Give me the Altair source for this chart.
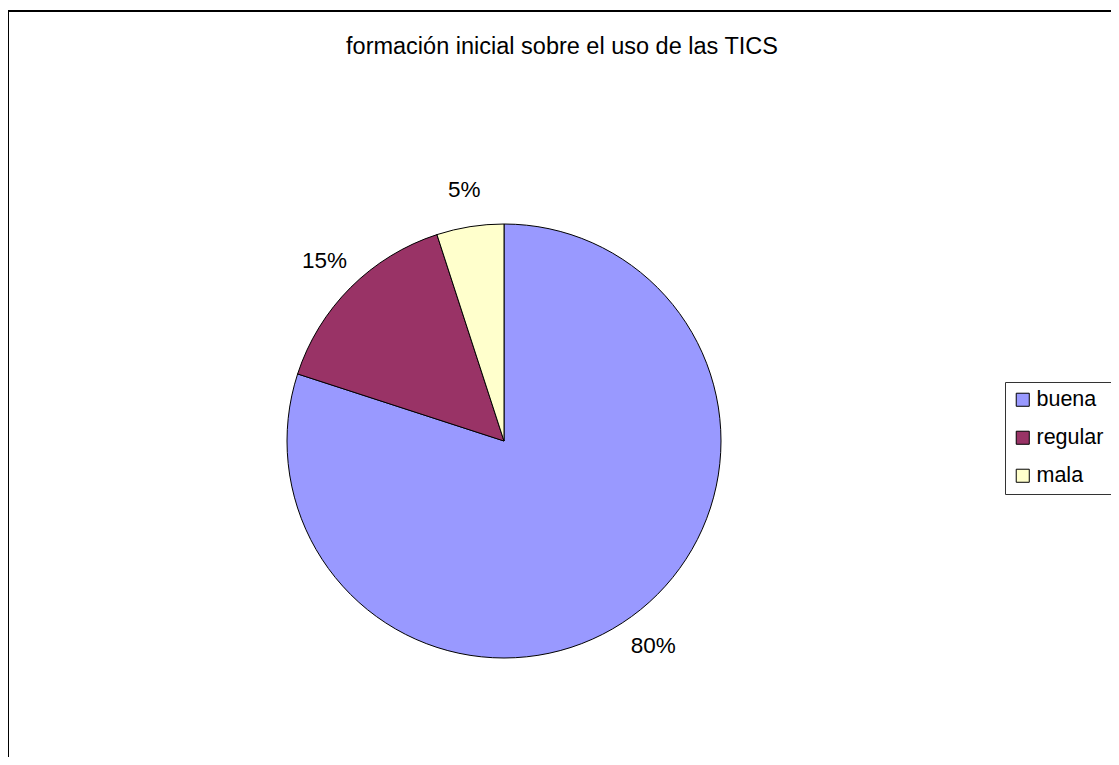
import altair as alt
import pandas as pd

categories = ["buena", "regular", "mala"]
values = [80, 15, 5]
labels = ["80%", "15%", "5%"]
colors = ["#9999FF", "#993366", "#FFFFCC"]
title_text = "formación inicial sobre el uso de las TICS"

df = pd.DataFrame({"cat": categories, "value": values, "label": labels,
                   "idx": list(range(len(categories)))})

FONT = "Liberation Sans"
CX, CY, R = 496, 433, 217

base = alt.Chart(df).encode(
    theta=alt.Theta("value:Q", stack=True),
    order=alt.Order("idx:Q"),
    x=alt.value(CX),
    y=alt.value(CY),
)

pie = base.mark_arc(outerRadius=R, stroke="black", strokeWidth=1).encode(
    color=alt.Color(
        "cat:N",
        scale=alt.Scale(domain=categories, range=colors),
        sort=categories,
        legend=alt.Legend(
            title=None,
            orient="none",
            legendX=997,
            legendY=374,
            symbolType="square",
            symbolSize=170,
            symbolStrokeColor="black",
            symbolStrokeWidth=1,
            symbolOpacity=1,
            labelFont=FONT,
            labelFontSize=21.5,
            labelColor="black",
            labelOffset=3,
            rowPadding=15,
            padding=7,
            strokeColor="#333333",
            fillColor="white",
        ),
    )
)

text = base.mark_text(radius=254, font=FONT, fontSize=22.5, color="black").encode(
    text="label:N",
    detail="cat:N",
)

title = alt.Chart(pd.DataFrame({"t": [title_text]})).mark_text(
    font=FONT, fontSize=23.5, color="black", baseline="alphabetic", align="center"
).encode(text="t:N", x=alt.value(554), y=alt.value(46))

border_top = alt.Chart(pd.DataFrame({"a": [0]})).mark_rule(
    color="black", strokeWidth=2
).encode(x=alt.value(-2), x2=alt.value(1120), y=alt.value(3))

border_left = alt.Chart(pd.DataFrame({"a": [0]})).mark_rule(
    color="black", strokeWidth=2
).encode(x=alt.value(0), y=alt.value(2), y2=alt.value(760))

chart = alt.layer(border_top, border_left, title, pie, text).properties(
    width=1103,
    height=749,
    autosize=alt.AutoSizeParams(type="none"),
    padding=0,
    background="white",
).configure_view(stroke="transparent")

chart.save("out.html", embed_options={"renderer": "svg", "actions": False})
